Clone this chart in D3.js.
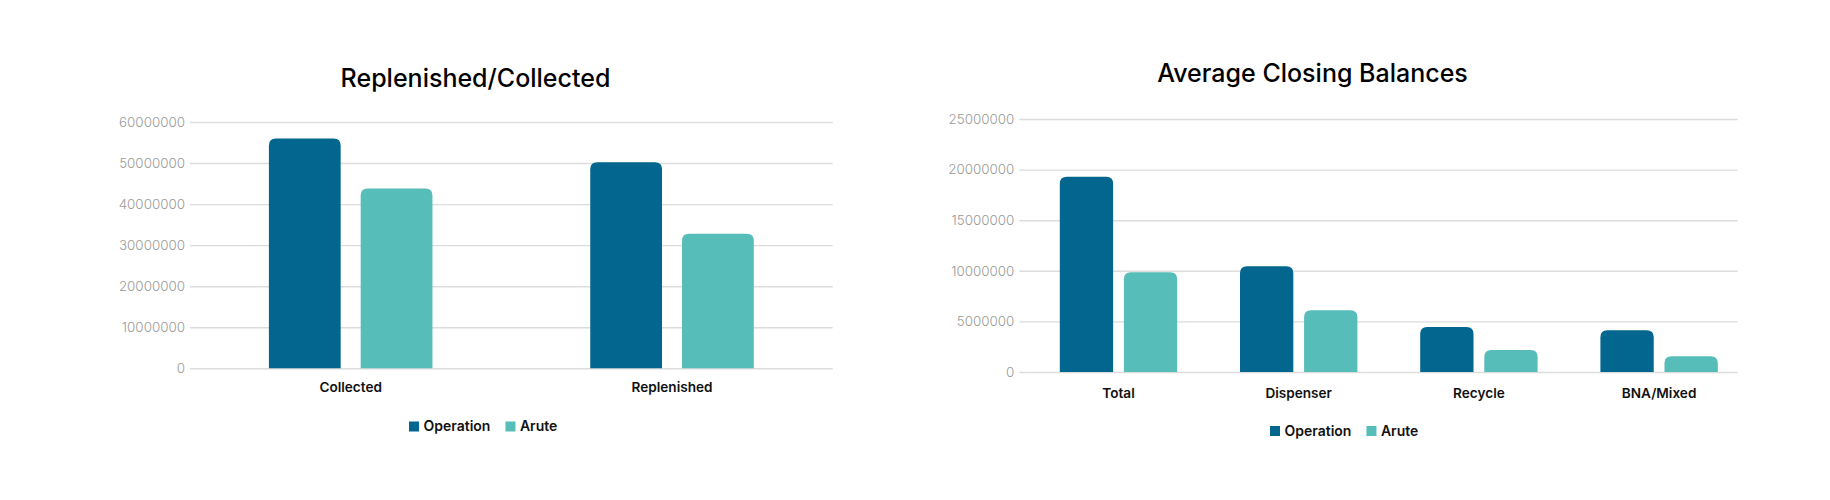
<!DOCTYPE html>
<html>
<head>
<meta charset="utf-8">
<script src="https://cdn.jsdelivr.net/npm/d3@7"></script>
<style>
  html, body { margin: 0; padding: 0; background: #ffffff; }
  svg { display: block; }
  text { font-family: "Inter", "Noto Sans", sans-serif; }
</style>
</head>
<body>
<svg id="chart" width="1830" height="500"></svg>
<script>
// ---- data ----
const seriesNames = ["Operation", "Arute"];
const seriesColors = ["#02668f", "#56bdb8"];

const title1 = "Replenished/Collected";
const categories1 = ["Collected", "Replenished"];
const operation1 = [56000000, 50200000];
const arute1 = [43800000, 32800000];
const ticks1 = [0, 10000000, 20000000, 30000000, 40000000, 50000000, 60000000];

const title2 = "Average Closing Balances";
const categories2 = ["Total", "Dispenser", "Recycle", "BNA/Mixed"];
const operation2 = [19300000, 10450000, 4450000, 4120000];
const arute2 = [9850000, 6100000, 2170000, 1550000];
const ticks2 = [0, 5000000, 10000000, 15000000, 20000000, 25000000];

const svg = d3.select("#chart");

function topRounded(x, y, w, h, r) {
  r = Math.min(r, w / 2, h);
  return `M${x},${y + h}V${y + r}Q${x},${y} ${x + r},${y}H${x + w - r}Q${x + w},${y} ${x + w},${y + r}V${y + h}Z`;
}

function drawChart(cfg) {
  const g = svg.append("g");
  const y = d3.scaleLinear().domain([0, d3.max(cfg.ticks)]).range([cfg.y0, cfg.yTop]);
  const x0 = d3.scaleBand().domain(cfg.categories).range(cfg.bandRange)
    .paddingInner(cfg.padInner).paddingOuter(cfg.padInner / 2);
  const x1 = d3.scaleBand().domain(seriesNames).range([0, x0.bandwidth()]).paddingInner(cfg.barGap);
  const color = d3.scaleOrdinal().domain(seriesNames).range(seriesColors);

  // y axis with gridlines
  const yAxis = d3.axisLeft(y).tickValues(cfg.ticks).tickFormat(d3.format("d"))
    .tickSize(-(cfg.gridX1 - cfg.gridX0)).tickPadding(5);
  const ya = g.append("g").attr("transform", `translate(${cfg.gridX0},0)`).call(yAxis);
  ya.select(".domain").remove();
  ya.selectAll(".tick line").attr("stroke", "#dcdcdc").attr("stroke-width", 1.4);
  ya.selectAll(".tick text").attr("fill", "#9a9a9a").attr("font-size", cfg.tickFont)
    .attr("font-weight", 300).style("font-family", "Inter, sans-serif");

  // bars
  const rows = cfg.categories.map((c, i) => ({ cat: c, vals: [cfg.operation[i], cfg.arute[i]] }));
  const grp = g.append("g").selectAll("g").data(rows).join("g")
    .attr("transform", d => `translate(${x0(d.cat)},0)`);
  grp.selectAll("path").data(d => d.vals.map((v, k) => ({ s: seriesNames[k], v })))
    .join("path")
    .attr("d", d => topRounded(x1(d.s), y(d.v), x1.bandwidth(), y(0) - y(d.v), cfg.radius))
    .attr("fill", d => color(d.s));

  // category labels
  const xAxis = d3.axisBottom(x0).tickSize(0).tickPadding(cfg.catPad);
  const xa = g.append("g").attr("transform", `translate(0,${cfg.y0})`).call(xAxis);
  xa.select(".domain").remove();
  xa.selectAll(".tick text").attr("fill", "#111").attr("font-size", 13.6).attr("font-weight", 600)
    .style("font-family", "Inter, sans-serif");

  // title
  g.append("text").attr("x", cfg.titleX).attr("y", cfg.titleY).attr("text-anchor", "middle")
    .attr("font-size", 25).attr("font-weight", 500).attr("fill", "#000").text(cfg.title);

  // legend
  const lg = g.append("g").attr("transform", `translate(${cfg.legendX},${cfg.legendY})`);
  let lx = 0;
  seriesNames.forEach((s, k) => {
    lg.append("rect").attr("x", lx).attr("y", -5).attr("width", 10).attr("height", 10)
      .attr("fill", seriesColors[k]);
    const t = lg.append("text").attr("x", lx + 14.5).attr("y", 0).attr("dy", "0.35em")
      .attr("font-size", 14).attr("font-weight", 600).attr("fill", "#111").text(s);
    lx += 14.5 + t.node().getComputedTextLength() + 15;
  });
}

drawChart({
  title: title1, categories: categories1, operation: operation1, arute: arute1, ticks: ticks1,
  gridX0: 190, gridX1: 832.7, y0: 368.3, yTop: 122,
  bandRange: [190, 832.7], padInner: 0.491, barGap: 0.218, radius: 7,
  titleX: 475.5, titleY: 87, tickFont: 13.4, catPad: 14.5,
  legendX: 409, legendY: 426.5
});

drawChart({
  title: title2, categories: categories2, operation: operation2, arute: arute2, ticks: ticks2,
  gridX0: 1019.3, gridX1: 1737.7, y0: 372, yTop: 119,
  bandRange: [1028.4, 1749.2], padInner: 0.3485, barGap: 0.168, radius: 7,
  titleX: 1312.5, titleY: 81.5, tickFont: 13.4, catPad: 16.5,
  legendX: 1270, legendY: 431
});
</script>
</body>
</html>
